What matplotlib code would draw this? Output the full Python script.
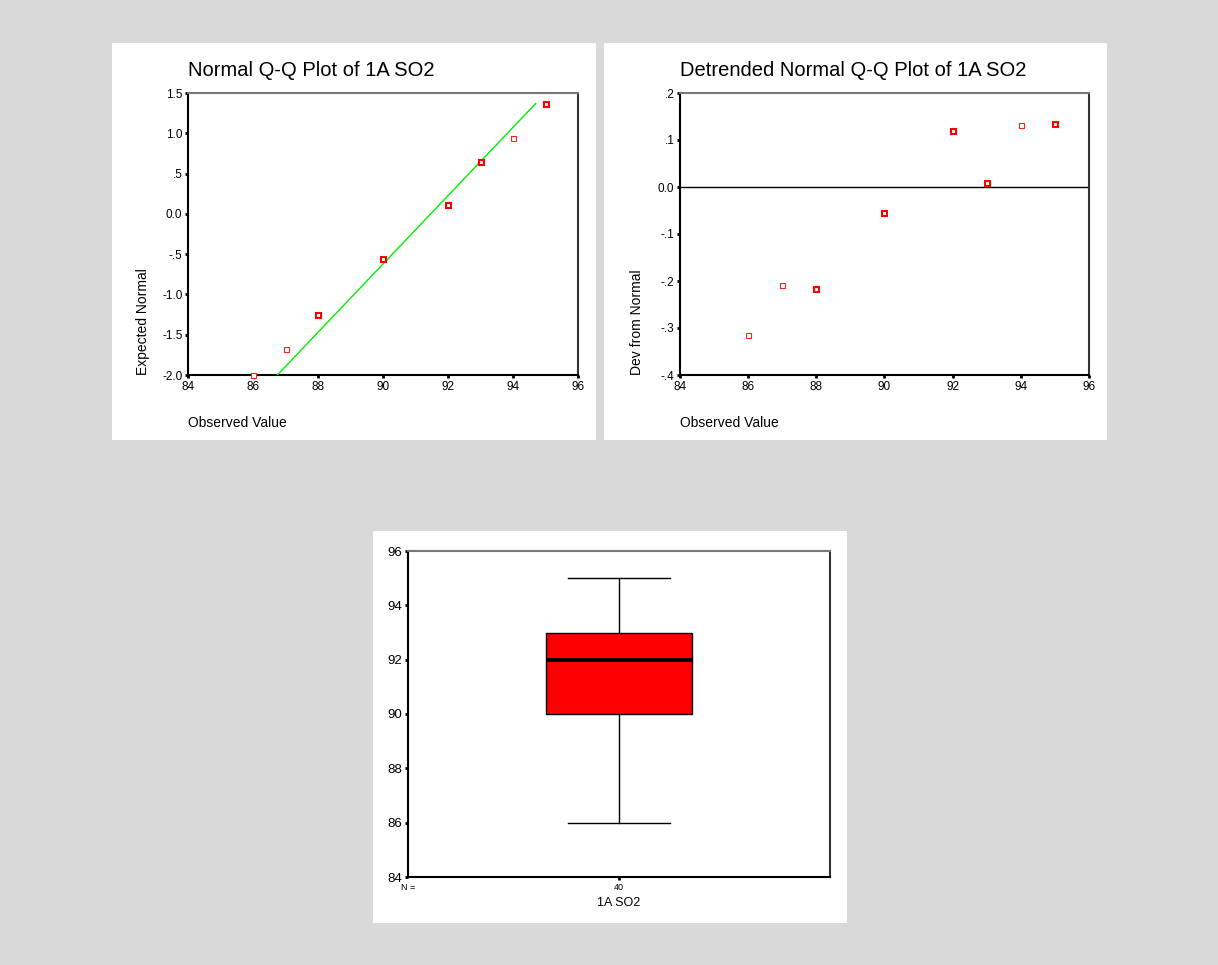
import matplotlib
matplotlib.use("Agg")
import matplotlib.pyplot as plt
from matplotlib.patches import Rectangle

plt.rcParams['font.family'] = ['Liberation Sans', 'DejaVu Sans']

# ---- data ----
observed = [86, 87, 88, 90, 92, 93, 94, 95]
expected_normal = [-2.00, -1.675, -1.25, -0.565, 0.11, 0.64, 0.94, 1.365]
dev_from_normal = [-0.315, -0.209, -0.216, -0.055, 0.120, 0.008, 0.132, 0.135]
heavy = [False, False, True, True, True, True, False, True]
line_x = [86.75, 94.7]
line_y = [-2.0, 1.37]

x_ticks = [84, 86, 88, 90, 92, 94, 96]
qq_yticks = [-2.0, -1.5, -1.0, -0.5, 0.0, 0.5, 1.0, 1.5]
qq_ylabels = ['-2.0', '-1.5', '-1.0', '-.5', '0.0', '.5', '1.0', '1.5']
dt_yticks = [-0.4, -0.3, -0.2, -0.1, 0.0, 0.1, 0.2]
dt_ylabels = ['-.4', '-.3', '-.2', '-.1', '0.0', '.1', '.2']

box_label = '1A SO2'
box_n = '40'
box_min, box_q1, box_med, box_q3, box_max = 86, 90, 92, 93, 95
box_yticks = [84, 86, 88, 90, 92, 94, 96]

W, H = 1218, 965
fig = plt.figure(figsize=(W / 100, H / 100), dpi=100)
fig.patch.set_facecolor('#d9d9d9')


def px_rect(l, t, r, b):
    return [l / W, 1 - b / H, (r - l) / W, (b - t) / H]


# white panels
for (l, t, r, b) in [(112, 43, 596, 440), (604, 43, 1107, 440), (373, 531, 847, 923)]:
    x0, y0, w, h = px_rect(l, t, r, b)
    fig.patches.append(Rectangle((x0, y0), w, h, transform=fig.transFigure,
                                 facecolor='white', edgecolor='none', zorder=-10))


def style_axes(ax, tick_fs=8.5):
    for s in ['left', 'bottom']:
        ax.spines[s].set_color('black')
        ax.spines[s].set_linewidth(1.5)
    ax.spines['top'].set_color('#777777')
    ax.spines['top'].set_linewidth(1.5)
    ax.spines['right'].set_color('#333333')
    ax.spines['right'].set_linewidth(1.5)
    ax.tick_params(direction='out', length=2, width=2, pad=2, labelsize=tick_fs,
                   colors='black', top=False, right=False)
    ax.set_facecolor('white')


def draw_points(ax, ys):
    for x, y, h in zip(observed, ys, heavy):
        if h:
            ax.plot([x], [y], marker='s', markersize=3.6, markerfacecolor='white',
                    markeredgecolor='#ff0000', markeredgewidth=1.5, linestyle='none',
                    clip_on=False, zorder=5)
        else:
            ax.plot([x], [y], marker='s', markersize=3.6, markerfacecolor='white',
                    markeredgecolor='#ff2020', markeredgewidth=0.8, linestyle='none',
                    clip_on=False, zorder=5)


# ---- Normal Q-Q plot ----
ax1 = fig.add_axes(px_rect(188, 93, 578, 375))
style_axes(ax1)
ax1.plot(line_x, line_y, color='#00ee00', linewidth=1.0, zorder=3)
draw_points(ax1, expected_normal)
ax1.set_xlim(84, 96)
ax1.set_ylim(-2.0, 1.5)
ax1.set_xticks(x_ticks)
ax1.set_yticks(qq_yticks)
ax1.set_yticklabels(qq_ylabels)
ax1.text(0, 1 + 23 / 282, 'Normal Q-Q Plot of 1A SO2', transform=ax1.transAxes,
         ha='left', va='center', fontsize=14.5)
ax1.text(0, -48 / 282, 'Observed Value', transform=ax1.transAxes,
         ha='left', va='center', fontsize=10)
ax1.text(-45 / 390, 0, 'Expected Normal', transform=ax1.transAxes,
         ha='center', va='bottom', rotation=90, fontsize=10)

# ---- Detrended Normal Q-Q plot ----
ax2 = fig.add_axes(px_rect(680, 93, 1089, 375))
style_axes(ax2)
ax2.axhline(0, color='black', linewidth=1.0, zorder=2)
draw_points(ax2, dev_from_normal)
ax2.set_xlim(84, 96)
ax2.set_ylim(-0.4, 0.2)
ax2.set_xticks(x_ticks)
ax2.set_yticks(dt_yticks)
ax2.set_yticklabels(dt_ylabels)
ax2.text(0, 1 + 23 / 282, 'Detrended Normal Q-Q Plot of 1A SO2', transform=ax2.transAxes,
         ha='left', va='center', fontsize=14.5)
ax2.text(0, -48 / 282, 'Observed Value', transform=ax2.transAxes,
         ha='left', va='center', fontsize=10)
ax2.text(-43 / 409, 0, 'Dev from Normal', transform=ax2.transAxes,
         ha='center', va='bottom', rotation=90, fontsize=10)

# ---- Boxplot ----
ax3 = fig.add_axes(px_rect(408, 551, 830, 877))
style_axes(ax3, tick_fs=9.5)
stats = [dict(med=box_med, q1=box_q1, q3=box_q3, whislo=box_min, whishi=box_max,
              fliers=[], label=box_n)]
ax3.bxp(stats, positions=[1], widths=0.348, capwidths=0.244, showfliers=False,
        patch_artist=True,
        boxprops=dict(facecolor='#ff0000', edgecolor='black', linewidth=1.0),
        medianprops=dict(color='black', linewidth=2.8),
        whiskerprops=dict(color='black', linewidth=1.0),
        capprops=dict(color='black', linewidth=1.0))
ax3.set_xlim(0.5, 1.5)
ax3.set_ylim(84, 96)
ax3.set_yticks(box_yticks)
ax3.set_xticks([1])
ax3.set_xticklabels([box_n], fontsize=6.5)
ax3.text(0, -10 / 326, 'N =', transform=ax3.transAxes, ha='center', va='center', fontsize=6.5)
ax3.text(0.5, -26 / 326, box_label, transform=ax3.transAxes, ha='center', va='center', fontsize=9)

fig.savefig('out.png', dpi=100, facecolor=fig.get_facecolor())
